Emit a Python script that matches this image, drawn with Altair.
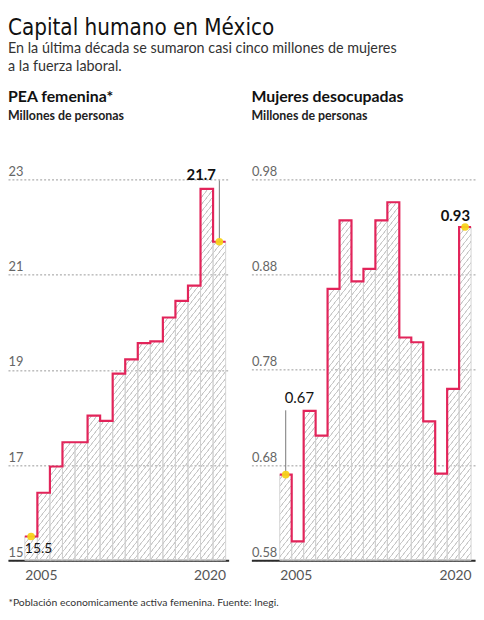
import math
import altair as alt
import pandas as pd

# ---------------- data ----------------
years = list(range(2005, 2021))
pea_femenina = [15.50, 16.42, 16.97, 17.48, 17.48, 18.04, 17.93, 18.92,
                19.22, 19.56, 19.60, 20.10, 20.45, 20.77, 22.80, 21.69]
mujeres_desocupadas = [0.670, 0.600, 0.737, 0.711, 0.865, 0.937, 0.873, 0.886,
                       0.937, 0.956, 0.814, 0.809, 0.726, 0.671, 0.760, 0.930]
pea_ticks = [15, 17, 19, 21, 23]
desoc_ticks = [0.58, 0.68, 0.78, 0.88, 0.98]
year_ticks = [2005, 2021]          # left edge of first bar, right edge of last bar
year_labels = ["2005", "2020"]

TITLE = "Capital humano en México"
SUBTITLE = ["En la última década se sumaron casi cinco millones de mujeres",
            "a la fuerza laboral."]
NOTE = "*Población economicamente activa femenina. Fuente: Inegi."

# ---------------- style ----------------
RED = "#e2245a"
YELLOW = "#f7d31a"
HATCH = "#c8c8c8"
DIV = "#d0d0d0"
GRID = "#9a9a9a"
FONT = "Lato"
TITLE_FONT = "'DejaVu Sans Condensed', 'Liberation Sans Narrow', 'Roboto', sans-serif"


def hatch(w, h, angle=52, period=4.4, line=0.7):
    s = math.sin(math.radians(angle))
    c = math.cos(math.radians(angle))
    L = w * s + h * c
    k = L / (w * w * s * s + h * h * c * c)
    n = int(L / period) + 1
    clear = "rgba(255,255,255,0)"
    ramp = 0.35
    stops = []
    for i in range(n):
        a = i * period
        for p, col in [(a, clear), (a + ramp, HATCH), (a + ramp + line, HATCH),
                       (a + 2 * ramp + line, clear)]:
            stops.append({"offset": min(p / L, 1.0), "color": col})
    return {"gradient": "linear", "x1": 0, "y1": 0, "x2": k * w * s, "y2": k * h * c,
            "stops": stops}


def panel(values, ymin, ymax, ticks, fmt, labfmt, xdom, width, height, title, anns, note=None):
    n = len(years)
    base = pd.DataFrame({"year": years, "end": [y + 1 for y in years],
                         "mid": [y + 0.5 for y in years], "v": values,
                         "lab": [format(v, labfmt) for v in values]})
    step = pd.DataFrame({"year": years + [years[-1] + 1], "v": values + [values[-1]]})

    xs = alt.Scale(domain=xdom, nice=False, zero=False)
    ys = alt.Scale(domain=[ymin, ymax], nice=False, zero=False)
    xaxis = alt.Axis(
        values=year_ticks,
        labelExpr=f"datum.value == {year_ticks[0]} ? '{year_labels[0]}' : '{year_labels[1]}'",
        labelAlign={"condition": {"test": f"datum.value == {year_ticks[0]}", "value": "left"},
                    "value": "right"},
        grid=False, ticks=False, domain=True, domainColor="#2b2b2b", domainWidth=2,
        labelFont=FONT, labelFontSize=14, labelColor="#555", labelPadding=8,
        title=note if note else None,
        titleX=0, titleY=38, titleAlign="left", titleAnchor="start",
        titleFont=FONT, titleFontSize=10.5, titleFontWeight="normal", titleColor="#333",
    )
    yaxis = alt.Axis(
        values=ticks, format=fmt, grid=True, gridDash=[2, 2], gridColor=GRID,
        gridWidth=1, domain=False, ticks=False, tickSize=0, labelAlign="left",
        labelBaseline="bottom", labelPadding=0, labelOffset=-1, labelFont=FONT,
        labelFontSize=13, labelColor="#666", title=None, minExtent=0,
    )
    X = lambda f: alt.X(f"{f}:Q", scale=xs, axis=xaxis)
    Y = alt.Y("v:Q", scale=ys, axis=yaxis)

    px = width / (xdom[1] - xdom[0])
    area_w = px * n
    area_h = (max(values) - ymin) / (ymax - ymin) * height

    area = alt.Chart(step).mark_area(interpolate="step-after", color=hatch(area_w, area_h)).encode(
        x=X("year"), y=Y, y2=alt.datum(ymin))
    divs = alt.Chart(base).mark_bar(fillOpacity=0, stroke=DIV, strokeWidth=0.9).encode(
        x=X("year"), x2="end:Q", y=Y, y2=alt.datum(ymin))
    line = alt.Chart(step).mark_line(interpolate="step-after", color=RED, strokeWidth=2.2).encode(
        x=X("year"), y=Y)
    layers = [area, divs, line]

    for a in anns:
        row = base.iloc[[a["i"]]]
        if a.get("leader") is not None:
            layers.append(alt.Chart(row).mark_rule(color="#777", strokeWidth=1,
                                                   y2Offset=a["leader"]).encode(
                x=X("mid"), y=Y, y2="v:Q"))
    for a in anns:
        row = base.iloc[[a["i"]]]
        layers.append(alt.Chart(row).mark_point(filled=True, color=YELLOW, size=60, opacity=0.95).encode(
            x=X("mid"), y=Y))
    for a in anns:
        row = base.iloc[[a["i"]]]
        layers.append(alt.Chart(row).mark_text(
            align=a["align"], dx=a["dx"], dy=a["dy"], font=FONT, fontSize=a["size"],
            fontWeight=a["weight"], color="#111", baseline="alphabetic").encode(
            x=X("mid"), y=Y, text="lab:N"))

    return alt.layer(*layers).properties(
        width=width, height=height,
        title=alt.TitleParams(
            title[0], subtitle=title[1], anchor="start", font=FONT, fontSize=16,
            fontWeight="bold", color="#111", subtitleFont=FONT, subtitleFontSize=12.5,
            subtitleFontWeight="bold", subtitleColor="#222", subtitlePadding=5, offset=44),
    )


H = 385
left = panel(pea_femenina, 15, 23, pea_ticks, ".0f", ".1f", [2003.66, 2021.24], 223, H,
             ("PEA femenina*", "Millones de personas"),
             [{"i": 0, "align": "left", "dx": -6.3, "dy": 17, "size": 14, "weight": "normal"},
              {"i": -1, "align": "right", "dx": -3.5, "dy": -62.5, "size": 15, "weight": "bold",
               "leader": -62}],
             note=NOTE)
right = panel(mujeres_desocupadas, 0.58, 0.98, desoc_ticks, ".2f", ".2f", [2002.63, 2021.33], 226, H,
              ("Mujeres desocupadas", "Millones de personas"),
              [{"i": 0, "align": "left", "dx": -1, "dy": -72.5, "size": 15, "weight": "normal",
                "leader": -65},
               {"i": -1, "align": "right", "dx": 5, "dy": -6, "size": 15, "weight": "bold"}])

chart = alt.hconcat(left, right, spacing=23, bounds="flush").properties(
    padding={"left": 0, "top": 6, "right": 0, "bottom": 2},
    title=alt.TitleParams(
        TITLE, subtitle=SUBTITLE, anchor="start", frame="group",
        font=TITLE_FONT, fontSize=22.5, fontWeight="normal", color="#111",
        subtitleFont=FONT, subtitleFontSize=14.5, subtitleColor="#333",
        subtitleLineHeight=17.5, subtitlePadding=3, offset=16),
).configure_view(stroke=None)

chart.save("out.html", embed_options={"renderer": "svg", "actions": False})
